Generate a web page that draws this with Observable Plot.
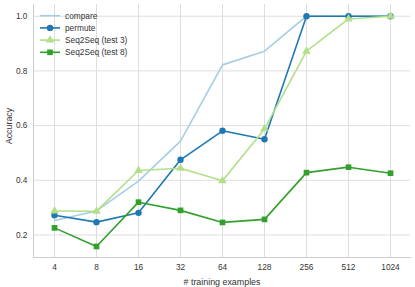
<!DOCTYPE html>
<html>
<head>
<meta charset="utf-8">
<script src="https://cdn.jsdelivr.net/npm/d3@7"></script>
<script src="https://cdn.jsdelivr.net/npm/@observablehq/plot@0.6"></script>
<style>
  html, body { margin: 0; padding: 0; background: white; }
  #wrap { position: relative; width: 415px; height: 287px; }
  #legend { position: absolute; left: 0; top: 0; }
</style>
</head>
<body>
<div id="wrap"></div>
<script>
const xLabels = ["4", "8", "16", "32", "64", "128", "256", "512", "1024"];
const seriesNames = ["compare", "permute", "Seq2Seq (test 3)", "Seq2Seq (test 8)"];
const seriesColors = ["#a6cee3", "#1f78b4", "#b2df8a", "#33a02c"];
const seriesSymbols = [null, "circle", "triangle", "square"];
const compare = [0.253, 0.288, 0.397, 0.543, 0.822, 0.872, 1.0, 1.0, 1.0];
const permute = [0.272, 0.247, 0.281, 0.475, 0.581, 0.550, 1.0, 1.0, 1.0];
const seq2seqTest3 = [0.288, 0.287, 0.436, 0.444, 0.398, 0.588, 0.872, 0.990, 1.0];
const seq2seqTest8 = [0.226, 0.158, 0.320, 0.290, 0.246, 0.257, 0.428, 0.448, 0.426];
const yTicks = [0.2, 0.4, 0.6, 0.8, 1.0];

const seriesValues = [compare, permute, seq2seqTest3, seq2seqTest8];
const data = [];
seriesNames.forEach((name, i) => {
  seriesValues[i].forEach((v, j) => data.push({series: name, x: xLabels[j], y: v}));
});

const font = "'Liberation Sans', Arial, sans-serif";
const marks = [
  Plot.gridX(xLabels, {stroke: "#dedede", strokeOpacity: 1, strokeWidth: 1}),
  Plot.gridY(yTicks, {stroke: "#dedede", strokeOpacity: 1, strokeWidth: 1}),
  Plot.frame({anchor: "left", stroke: "#cccccc"}),
  Plot.frame({anchor: "bottom", stroke: "#cccccc"}),
  Plot.axisX({tickSize: 0, tickPadding: 7, label: "# training examples", labelAnchor: "center", labelOffset: 27, labelArrow: "none"}),
  Plot.axisY({ticks: yTicks, tickSize: 0, tickPadding: 6, tickFormat: ".1f", label: "Accuracy", labelAnchor: "center", labelOffset: 28, labelArrow: "none"})
];
seriesNames.forEach((name, i) => {
  const d = data.filter(r => r.series === name);
  marks.push(Plot.line(d, {x: "x", y: "y", stroke: seriesColors[i], strokeWidth: 1.6}));
  if (seriesSymbols[i]) {
    marks.push(Plot.dot(d, {x: "x", y: "y", fill: seriesColors[i], symbol: seriesSymbols[i], r: 3.2, stroke: "none"}));
  }
});

const chart = Plot.plot({
  width: 415, height: 287,
  marginLeft: 33, marginRight: 5, marginTop: 4, marginBottom: 30,
  style: {fontFamily: font, fontSize: "8.3px", color: "#333", background: "white", overflow: "visible"},
  x: {type: "point", domain: xLabels, padding: 0.4, label: null},
  y: {domain: [0.1177, 1.0428], label: null},
  marks
});
const wrap = document.getElementById("wrap");
wrap.appendChild(chart);

// Axis label styling (slightly larger than tick labels)
d3.select(chart).selectAll('g[aria-label="x-axis label"], g[aria-label="y-axis label"]')
  .attr("font-size", "8.9px");
const yl = d3.select(chart).select('g[aria-label="y-axis label"]');
yl.attr("transform", `translate(0,-5) ${yl.attr("transform") || ""}`);

// Legend (inside the axes, upper left)
const lg = d3.select(wrap).append("svg").attr("id", "legend")
  .attr("width", 140).attr("height", 60)
  .style("font-family", font).style("font-size", "8.3px");
const rowY = i => 15.7 + i * 12.2;
seriesNames.forEach((name, i) => {
  const g = lg.append("g");
  g.append("line").attr("x1", 40).attr("x2", 60).attr("y1", rowY(i)).attr("y2", rowY(i))
    .attr("stroke", seriesColors[i]).attr("stroke-width", 1.6);
  if (seriesSymbols[i]) {
    const sym = {circle: d3.symbolCircle, triangle: d3.symbolTriangle, square: d3.symbolSquare}[seriesSymbols[i]];
    g.append("path").attr("d", d3.symbol(sym, Math.PI * 3.2 * 3.2)())
      .attr("transform", `translate(50,${rowY(i)})`).attr("fill", seriesColors[i]);
  }
  g.append("text").attr("x", 65).attr("y", rowY(i)).attr("dy", "0.35em")
    .attr("fill", "#333").text(name);
});
</script>
</body>
</html>
